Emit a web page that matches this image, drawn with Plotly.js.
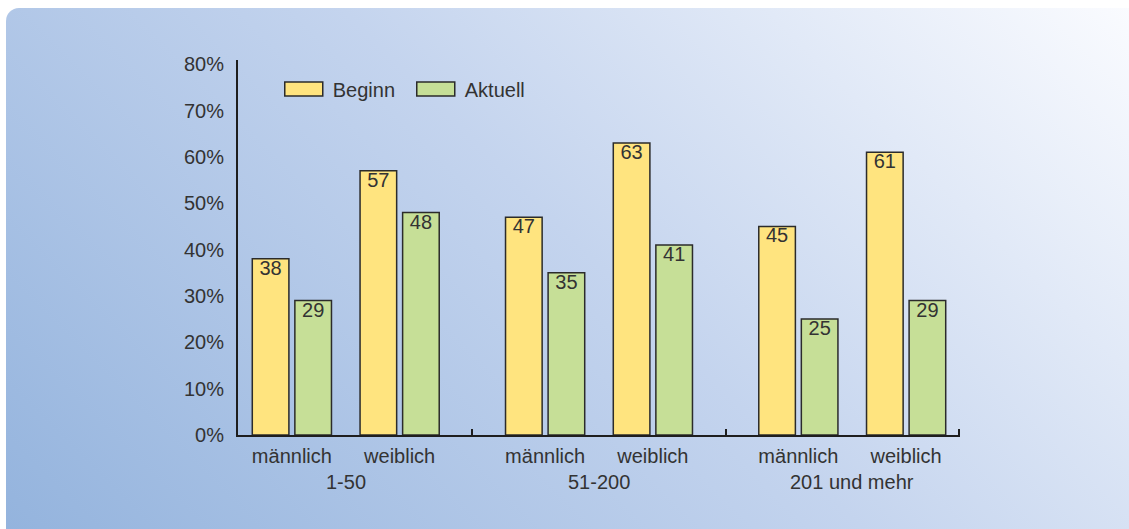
<!DOCTYPE html>
<html>
<head>
<meta charset="utf-8">
<script src="https://cdn.plot.ly/plotly-3.0.1.min.js"></script>
<style>
  html, body { margin: 0; padding: 0; width: 1129px; height: 529px; overflow: hidden; background: #ffffff; }
  #panel {
    position: absolute; left: 6px; top: 8px; width: 1140px; height: 535px;
    border-radius: 13px;
    background: linear-gradient(45deg, #93B3DD 0%, #C4D4EE 52%, #FBFCFF 100%);
  }
  #chart { position: absolute; left: 0; top: 0; width: 1129px; height: 529px; }
</style>
</head>
<body>
<div id="panel"></div>
<div id="chart"></div>
<script>
// Company size groups and gender sub-categories
const groups = ['1-50', '51-200', '201 und mehr'];
const genders = ['männlich', 'weiblich'];
// Shares in percent, ordered group by group: männlich, weiblich
const beginn = [38, 57, 47, 63, 45, 61];
const aktuell = [29, 48, 35, 41, 25, 29];
const seriesNames = ['Beginn', 'Aktuell'];
const yTicks = [0, 10, 20, 30, 40, 50, 60, 70, 80];
const yTickText = yTicks.map(v => v + '%');

// Extra spacing between size groups, in category units
const GROUP_GAP = 0.35;
const xPos = [];
const xText = [];
groups.forEach((g, gi) => {
  genders.forEach((s, si) => {
    xPos.push(gi * (genders.length + GROUP_GAP) + si);
    xText.push(s);
  });
});
const groupCenters = groups.map((g, gi) => gi * (genders.length + GROUP_GAP) + (genders.length - 1) / 2);
const xMin = -0.5;
const xMax = xPos[xPos.length - 1] + 0.5;
// boundaries between the size groups, plus the axis end
const dividers = groups.slice(1).map((g, gi) => (groupCenters[gi] + groupCenters[gi + 1]) / 2);
dividers.push(xMax - 0.01);

const txt = '#333333';
const font = { family: 'Liberation Sans, Arial, sans-serif', size: 20, color: txt };

function barTrace(name, values, color) {
  return {
    type: 'bar', name: name, x: xPos, y: values,
    marker: { color: color, line: { color: '#2b2b2b', width: 1.5 } },
    text: values.map(String), textposition: 'inside', insidetextanchor: 'end',
    textangle: 0, constraintext: 'none',
    textfont: { family: font.family, size: 20, color: txt },
    hoverinfo: 'x+y'
  };
}

const traces = [
  barTrace(seriesNames[0], beginn, '#FFE47F'),
  barTrace(seriesNames[1], aktuell, '#C6DF97'),
  // invisible helper trace so the divider tick axis is drawn
  { type: 'scatter', x: [xMin], y: [0], xaxis: 'x2', mode: 'markers',
    marker: { opacity: 0 }, showlegend: false, hoverinfo: 'skip' }
];

const layout = {
  width: 1129, height: 529,
  margin: { l: 238, r: 169, t: 60, b: 94 },
  paper_bgcolor: 'rgba(0,0,0,0)', plot_bgcolor: 'rgba(0,0,0,0)',
  font: font,
  barmode: 'group', bargap: 0.21, bargroupgap: 0.14,
  showlegend: true,
  legend: {
    orientation: 'h', x: 0.062, xanchor: 'left', y: 0.923, yanchor: 'middle',
    bgcolor: 'rgba(0,0,0,0)', font: font, itemwidth: 40, traceorder: 'normal',
    entrywidth: 77
  },
  xaxis: {
    range: [xMin, xMax], tickmode: 'array', tickvals: xPos, ticktext: xText,
    ticks: '', showgrid: false, zeroline: false,
    showline: true, linewidth: 2, linecolor: '#1e1e1e',
    tickfont: font, ticklabelstandoff: 2
  },
  xaxis2: {
    overlaying: 'x', anchor: 'y', side: 'bottom', range: [xMin, xMax],
    tickmode: 'array', tickvals: dividers, ticks: 'inside', ticklen: 6,
    tickwidth: 2, tickcolor: '#1e1e1e', showticklabels: false,
    showgrid: false, zeroline: false, showline: false
  },
  yaxis: {
    range: [0, 80.9], tickmode: 'array', tickvals: yTicks, ticktext: yTickText,
    ticks: '', showgrid: false, zeroline: false,
    showline: true, linewidth: 2, linecolor: '#1e1e1e',
    tickfont: font, ticklabelstandoff: 8
  },
  annotations: groups.map((g, gi) => ({
    text: g, x: groupCenters[gi], xref: 'x', y: -0.125, yref: 'paper',
    xanchor: 'center', yanchor: 'middle', showarrow: false, font: font
  }))
};

Plotly.newPlot('chart', traces, layout, { staticPlot: true }).then(gd => {
  // widen the legend swatches into flat rectangles
  gd.querySelectorAll('.legendpoints path').forEach(p => {
    p.setAttribute('d', 'M15,7H-23V-7H15Z');
  });
  // sit the value labels a little closer to the bar tops
  gd.querySelectorAll('text.bartext').forEach(t => {
    const tr = t.getAttribute('transform') || '';
    t.setAttribute('transform', 'translate(0,-5) ' + tr);
  });
});
</script>
</body>
</html>
